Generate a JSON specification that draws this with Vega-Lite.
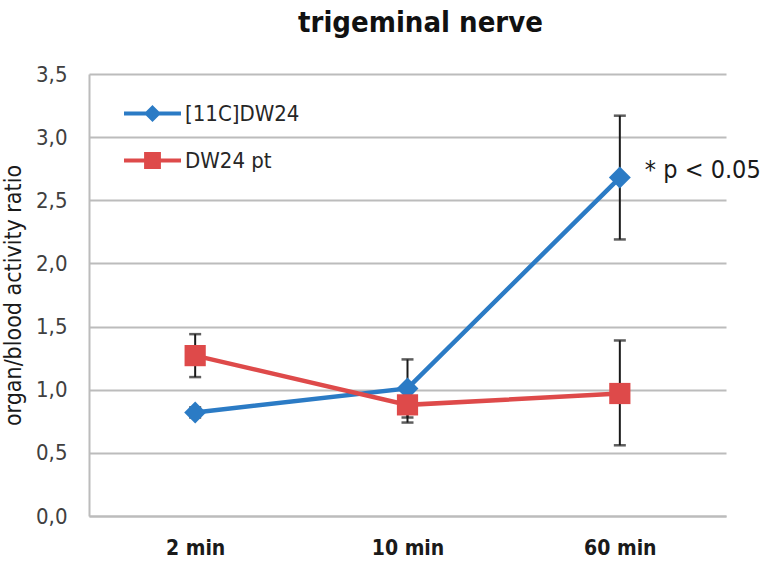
{
  "$schema": "https://vega.github.io/schema/vega-lite/v6.json",
  "width": 637,
  "height": 442,
  "autosize": "none",
  "padding": {"left": 89, "top": 74, "right": 38, "bottom": 46},
  "background": "white",
  "title": {
    "text": "trigeminal nerve",
    "font": "DejaVu Sans Condensed, Liberation Sans, sans-serif",
    "fontSize": 29,
    "fontWeight": "bold",
    "color": "#111111",
    "anchor": "middle",
    "frame": "group",
    "dx": 13,
    "offset": 25
  },
  "config": {
    "view": {"stroke": null},
    "axis": {"labelFont": "DejaVu Sans Condensed, Liberation Sans, sans-serif", "titleFont": "DejaVu Sans Condensed, Liberation Sans, sans-serif"}
  },
  "datasets": {
    "main": [
      {"time": "2 min", "series": "[11C]DW24", "value": 0.82, "lo": 0.78, "hi": 0.86},
      {"time": "10 min", "series": "[11C]DW24", "value": 1.01, "lo": 0.78, "hi": 1.24},
      {"time": "60 min", "series": "[11C]DW24", "value": 2.68, "lo": 2.19, "hi": 3.17},
      {"time": "2 min", "series": "DW24 pt", "value": 1.27, "lo": 1.10, "hi": 1.44},
      {"time": "10 min", "series": "DW24 pt", "value": 0.88, "lo": 0.74, "hi": 1.02},
      {"time": "60 min", "series": "DW24 pt", "value": 0.97, "lo": 0.56, "hi": 1.39}
    ],
    "notes": [
      {"time": "60 min", "value": 2.68, "label": "* p < 0.05"}
    ]
  },
  "data": {"name": "main"},
  "encoding": {
    "x": {
      "field": "time",
      "type": "ordinal",
      "sort": ["2 min", "10 min", "60 min"],
      "scale": {"type": "point", "padding": 0.5},
      "axis": {
        "title": null,
        "labelAngle": 0,
        "ticks": false,
        "tickSize": 0,
        "labelPadding": 21,
        "labelFontSize": 21,
        "labelFontWeight": "bold",
        "labelColor": "#1a1a1a",
        "domainColor": "#bcbcbc",
        "domainWidth": 2,
        "grid": false
      }
    }
  },
  "layer": [
    {
      "mark": {"type": "rule", "color": "#1a1a1a", "strokeWidth": 2},
      "encoding": {
        "y": {"field": "lo", "type": "quantitative"},
        "y2": {"field": "hi"}
      }
    },
    {
      "mark": {"type": "tick", "color": "#1a1a1a", "thickness": 2.5, "size": 12, "orient": "horizontal"},
      "encoding": {"y": {"field": "lo", "type": "quantitative"}}
    },
    {
      "mark": {"type": "tick", "color": "#1a1a1a", "thickness": 2.5, "size": 12, "orient": "horizontal"},
      "encoding": {"y": {"field": "hi", "type": "quantitative"}}
    },
    {
      "mark": {"type": "line", "strokeWidth": 4.5},
      "encoding": {
        "y": {
          "field": "value",
          "type": "quantitative",
          "scale": {"domain": [0, 3.5], "nice": false},
          "axis": {
            "title": "organ/blood activity ratio",
            "titleFontSize": 23,
            "titleFontWeight": "normal",
            "titleColor": "#1a1a1a",
            "titlePadding": 10,
            "values": [0, 0.5, 1, 1.5, 2, 2.5, 3, 3.5],
            "labelExpr": "replace(format(datum.value, '.1f'), '.', ',')",
            "labelFontSize": 22,
            "labelColor": "#404040",
            "labelPadding": 22,
            "ticks": false,
            "tickSize": 0,
            "domainColor": "#bcbcbc",
            "domainWidth": 2,
            "gridColor": "#bcbcbc",
            "gridWidth": 2
          }
        },
        "color": {
          "field": "series",
          "type": "nominal",
          "scale": {"domain": ["[11C]DW24", "DW24 pt"], "range": ["#2b7bc5", "#de4a4a"]},
          "legend": {
            "title": null,
            "orient": "none",
            "legendX": 47,
            "legendY": 23,
            "padding": 0,
            "symbolSize": 812,
            "symbolStrokeWidth": 4,
            "labelOffset": 16,
            "rowPadding": 16,
            "labelFont": "DejaVu Sans Condensed, Liberation Sans, sans-serif",
            "labelFontSize": 22,
            "labelColor": "#262626",
            "encode": {
              "symbols": {
                "update": {
                  "shape": {"signal": "datum.value === '[11C]DW24' ? 'M-2,0L2,0M0,-0.4L0.4,0L0,0.4L-0.4,0Z' : 'M-2,0L2,0M-0.45,-0.45L0.45,-0.45L0.45,0.45L-0.45,0.45Z'"},
                  "fill": {"scale": "color", "field": "value"},
                  "fillOpacity": {"value": 1}
                }
              }
            }
          }
        }
      }
    },
    {
      "transform": [{"filter": "datum.series === '[11C]DW24'"}],
      "mark": {"type": "point", "shape": "diamond", "filled": true, "opacity": 1, "size": 480},
      "encoding": {
        "y": {"field": "value", "type": "quantitative"},
        "color": {"field": "series", "type": "nominal"}
      }
    },
    {
      "transform": [{"filter": "datum.series === 'DW24 pt'"}],
      "mark": {"type": "point", "shape": "square", "filled": true, "opacity": 1, "size": 450},
      "encoding": {
        "y": {"field": "value", "type": "quantitative"},
        "color": {"field": "series", "type": "nominal"}
      }
    },
    {
      "data": {"name": "notes"},
      "mark": {"type": "text", "align": "left", "baseline": "alphabetic", "dx": 25, "dy": 0, "font": "DejaVu Sans Condensed, Liberation Sans, sans-serif", "fontSize": 25, "color": "#1a1a1a"},
      "encoding": {
        "y": {"field": "value", "type": "quantitative"},
        "text": {"field": "label"}
      }
    }
  ]
}
